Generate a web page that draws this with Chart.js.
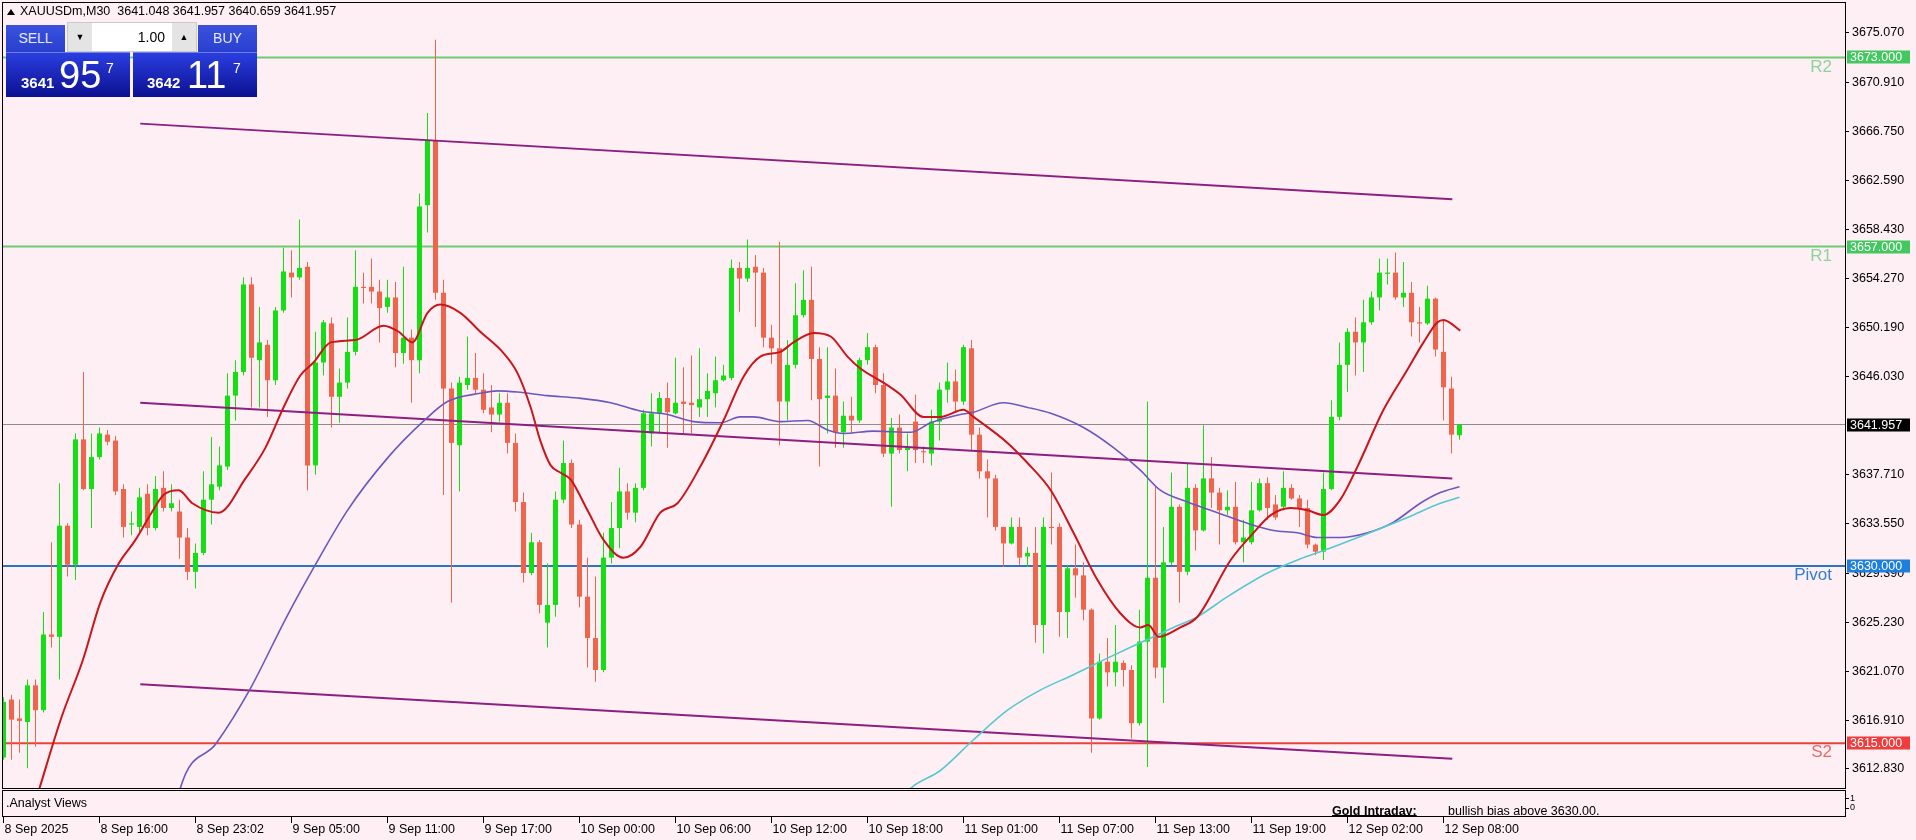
<!DOCTYPE html>
<html lang="en">
<head>
<meta charset="UTF-8" />
<title>XAUUSDm,M30</title>
<script src="https://cdn.jsdelivr.net/npm/chart.js"></script>
<style>
  body { margin: 0; background: #fdeff3; overflow: hidden; font-family: "Liberation Sans", Arial, sans-serif; }
  #wrap { position: relative; width: 1916px; height: 840px; }
  #chart { position: absolute; left: 0; top: 0; }
  .hdr { position: absolute; top: 25px; height: 27px; background: linear-gradient(#3a52dc, #2a3fcf); color: #e4e9ff;
         font-size: 14px; line-height: 27px; text-align: center; }
  .spin { position: absolute; left: 67px; top: 22px; width: 130px; height: 30px; background: #fff; border: 1px solid #c9c9c9; box-sizing: border-box; }
  .spin .arr { position: absolute; top: 0; width: 24px; height: 28px; background: #e4e4e4; font-size: 9px; line-height: 28px; text-align: center; color: #000; }
  .spin .lot { position: absolute; right: 31px; top: 0; line-height: 28px; font-size: 14px; color: #000; }
  .px { position: absolute; top: 52px; width: 124px; height: 45px; background: linear-gradient(#2a3ee0, #0c1090); color: #fff; border-top: 1px solid #6f7fe6; box-sizing: border-box; }
  .px span { position: absolute; line-height: 1; white-space: nowrap; }
  .px .s { font-size: 15px; font-weight: bold; top: 22px; }
  .px .b { font-size: 38px; top: 3px; }
  .px .u { font-size: 14px; top: 8px; }
</style>
</head>
<body>
<div id="wrap">
  <canvas id="chart" width="1916" height="840"></canvas>
  <div class="hdr" style="left:6px; width:59px;">SELL</div>
  <div class="spin">
    <div class="arr" style="left:0;">&#9660;</div>
    <div class="lot">1.00</div>
    <div class="arr" style="right:0;">&#9650;</div>
  </div>
  <div class="hdr" style="left:198px; width:59px;">BUY</div>
  <div class="px" style="left:6px;"><span class="s" style="left:15px;">3641</span><span class="b" style="left:53px;">95</span><span class="u" style="left:100px;">7</span></div>
  <div class="px" style="left:133px;"><span class="s" style="left:14px;">3642</span><span class="b" style="left:54px;">11</span><span class="u" style="left:100px;">7</span></div>
</div>

<script>
// candles, one per 30 minutes
const openP = [
  3613.8,3618.7,3617.1,3616.8,3619.9,3617.8,3624.2,3624.0,3633.4,3630.1,
  3640.7,3636.5,3639.2,3641.1,3640.6,3636.5,3633.5,3633.3,3636.1,3633.2,
  3636.6,3634.9,3634.6,3632.4,3629.5,3631.1,3635.6,3636.7,3638.4,3644.4,
  3646.4,3653.8,3647.4,3648.7,3645.7,3651.6,3654.8,3654.4,3655.3,3638.5,
  3647.2,3650.5,3644.3,3645.5,3648.1,3653.6,3653.6,3653.2,3651.9,3652.7,
  3648.0,3649.3,3647.4,3660.5,3666.0,3653.1,3645.0,3640.2,3645.3,3645.9,
  3644.9,3643.4,3642.8,3643.8,3640.4,3635.4,3629.4,3632.0,3625.2,3626.7,
  3635.6,3638.7,3633.5,3627.4,3623.9,3621.2,3630.7,3633.2,3636.3,3634.5,
  3636.6,3641.2,3642.9,3644.2,3642.9,3643.9,3643.8,3643.4,3644.1,3644.6,
  3645.7,3645.9,3655.2,3654.3,3655.3,3654.8,3649.3,3648.4,3643.9,3647.0,
  3651.2,3652.5,3647.5,3644.2,3644.4,3641.3,3642.7,3642.3,3647.4,3648.5,
  3645.3,3639.5,3641.7,3639.8,3642.2,3639.7,3639.5,3642.2,3644.9,3645.6,
  3643.9,3648.4,3641.1,3638.0,3637.4,3633.3,3631.9,3633.3,3630.8,3631.1,
  3625.0,3633.3,3633.3,3626.1,3629.8,3629.2,3626.3,3617.1,3621.9,3621.0,
  3621.8,3621.2,3616.7,3623.6,3629.0,3621.4,3630.3,3635.0,3629.5,3636.6,
  3633.0,3637.4,3636.2,3634.7,3635.0,3632.0,3632.0,3634.7,3637.0,3635.2,
  3635.0,3636.6,3635.7,3634.9,3631.8,3631.2,3636.5,3642.6,3647.0,3649.8,
  3648.9,3650.6,3652.7,3654.7,3654.8,3652.7,3653.1,3650.6,3650.5,3652.6,
  3648.1,3645.0,3641.048
];
const highP = [
  3618.9,3619.1,3618.7,3620.4,3620.4,3626.1,3632.0,3637.0,3633.6,3641.2,
  3646.4,3641.2,3641.7,3641.5,3641.0,3636.9,3634.6,3636.6,3636.9,3637.6,
  3638.0,3636.9,3635.6,3633.2,3631.9,3638.0,3640.9,3640.1,3646.3,3647.4,
  3654.4,3654.4,3651.9,3649.1,3651.9,3656.9,3656.7,3659.3,3655.7,3649.8,
  3650.8,3651.0,3646.7,3651.0,3656.7,3654.8,3656.0,3654.2,3654.2,3654.0,
  3655.3,3650.0,3661.5,3668.3,3674.5,3654.2,3645.5,3646.0,3649.4,3648.0,
  3646.3,3645.3,3644.6,3644.6,3641.2,3636.2,3632.8,3632.2,3630.2,3636.3,
  3640.6,3639.0,3633.9,3630.7,3629.1,3632.8,3635.4,3638.3,3637.0,3637.0,
  3643.2,3644.6,3644.7,3645.5,3647.6,3646.8,3647.8,3648.4,3646.3,3647.7,
  3647.0,3655.9,3655.7,3657.6,3656.3,3655.2,3650.4,3657.4,3649.1,3653.9,
  3655.0,3655.3,3648.5,3648.5,3646.7,3643.9,3644.3,3647.6,3649.7,3648.7,
  3646.3,3642.5,3642.8,3641.2,3644.5,3640.1,3643.2,3645.5,3647.2,3646.6,
  3648.7,3649.1,3641.7,3639.0,3637.7,3633.3,3634.1,3634.1,3631.6,3633.3,
  3634.1,3637.9,3633.6,3630.1,3631.8,3630.3,3626.4,3622.6,3623.9,3625.0,
  3622.0,3621.6,3626.3,3643.9,3636.7,3633.3,3637.9,3635.2,3638.7,3636.9,
  3641.9,3639.2,3636.6,3636.4,3637.1,3633.9,3637.1,3637.4,3637.5,3636.0,
  3638.0,3636.9,3636.0,3635.6,3631.9,3637.9,3644.0,3648.9,3650.1,3651.0,
  3652.5,3653.2,3656.0,3656.0,3656.5,3655.7,3654.0,3651.9,3653.7,3652.7,
  3650.8,3646.0,3641.957
];
const lowP = [
  3613.6,3613.6,3614.2,3612.9,3614.7,3617.6,3623.1,3620.4,3629.1,3628.8,
  3636.4,3633.2,3639.0,3640.2,3636.0,3632.4,3632.6,3632.8,3632.6,3633.0,
  3634.6,3634.6,3630.6,3628.8,3628.1,3630.9,3633.5,3636.4,3638.1,3642.3,
  3646.1,3643.4,3643.4,3642.6,3645.3,3651.4,3652.7,3654.2,3636.4,3637.7,
  3646.1,3641.7,3642.1,3645.0,3647.8,3652.2,3652.2,3648.9,3651.4,3646.8,
  3647.1,3643.8,3646.3,3658.2,3652.5,3636.0,3626.9,3636.3,3644.9,3644.5,
  3642.9,3641.3,3642.2,3639.5,3634.6,3628.6,3629.2,3626.0,3623.1,3625.7,
  3635.3,3633.2,3626.5,3621.4,3620.2,3621.0,3630.2,3631.5,3633.9,3633.7,
  3636.4,3640.1,3641.2,3640.0,3642.8,3641.2,3641.2,3642.6,3642.6,3643.4,
  3645.6,3645.7,3651.5,3654.0,3650.2,3648.5,3647.1,3640.2,3642.3,3646.7,
  3651.0,3644.0,3638.4,3641.2,3640.0,3640.0,3641.2,3642.1,3647.0,3644.6,
  3639.2,3635.0,3639.5,3638.0,3638.7,3638.7,3638.5,3640.6,3643.8,3643.0,
  3643.6,3639.8,3637.4,3634.1,3633.0,3629.9,3631.8,3630.1,3629.9,3623.5,
  3622.6,3631.8,3624.0,3623.9,3627.3,3625.4,3614.2,3617.0,3619.8,3619.8,
  3619.8,3615.4,3616.5,3613.0,3620.5,3618.4,3630.1,3626.9,3629.2,3631.3,
  3632.9,3634.9,3631.8,3634.3,3631.8,3630.3,3631.8,3634.6,3633.9,3633.9,
  3634.7,3635.6,3633.3,3631.5,3630.9,3630.5,3636.4,3642.3,3644.7,3646.1,
  3646.4,3650.4,3651.6,3653.8,3652.5,3651.9,3649.4,3648.9,3650.4,3647.7,
  3642.3,3639.5,3640.659
];
const closeP = [
  3618.5,3617.0,3616.9,3619.9,3617.8,3624.2,3624.0,3633.4,3630.1,3640.7,
  3636.5,3639.2,3641.2,3640.5,3636.3,3633.3,3633.6,3635.8,3633.2,3636.5,
  3634.9,3635.3,3632.4,3629.5,3631.1,3635.6,3636.9,3638.5,3644.4,3646.4,
  3653.8,3647.6,3648.9,3645.7,3651.6,3654.9,3654.4,3655.2,3638.5,3647.2,
  3650.6,3644.3,3645.5,3648.1,3653.6,3653.5,3653.2,3651.8,3652.7,3648.0,
  3649.3,3647.4,3660.4,3666.0,3653.1,3645.0,3640.4,3645.5,3645.9,3644.9,
  3643.2,3642.8,3643.8,3640.4,3635.4,3629.4,3632.0,3626.7,3626.7,3635.6,
  3638.7,3633.5,3627.4,3623.9,3621.2,3630.7,3633.2,3636.3,3634.5,3636.6,
  3642.9,3642.9,3644.2,3643.0,3643.8,3643.7,3643.6,3644.1,3644.8,3645.7,
  3646.1,3655.2,3654.3,3655.2,3654.8,3649.3,3648.4,3643.9,3647.0,3651.2,
  3652.5,3647.5,3644.1,3644.4,3641.3,3642.7,3642.3,3647.4,3648.5,3645.3,
  3639.5,3641.7,3639.8,3640.0,3639.8,3639.6,3642.2,3644.9,3645.6,3643.9,
  3648.5,3641.1,3638.0,3637.4,3633.3,3631.9,3633.3,3630.7,3631.1,3625.0,
  3633.3,3633.2,3626.1,3629.8,3629.2,3626.3,3617.1,3621.9,3621.0,3621.9,
  3621.2,3616.7,3623.6,3629.0,3621.4,3630.3,3635.0,3629.5,3636.6,3633.0,
  3637.4,3636.2,3634.7,3635.0,3632.0,3632.4,3634.7,3637.0,3634.9,3634.1,
  3636.6,3635.7,3634.9,3631.8,3631.2,3636.5,3642.6,3647.0,3649.8,3648.9,
  3650.6,3652.7,3654.8,3654.8,3652.7,3653.1,3650.6,3650.5,3652.6,3648.3,
  3645.1,3641.1,3641.957
];

// moving averages, [bar index, price] read at points along each line
const maFast = [
  [3.5,3609],[4.5,3611.2],[7.25,3617.2],[9.9,3622.0],[12.1,3626.9],[14.4,3630.2],[16.5,3632.2],
  [18.5,3634.5],[20,3636.0],[21.9,3636.4],[23.6,3635.3],[26.9,3634.5],[30.25,3637.4],[32.75,3640.0],
  [35,3643.4],[37.1,3646.1],[38.75,3647.2],[40.9,3648.9],[44,3649.1],[47.5,3650.3],[49.4,3649.8],
  [51.1,3648.9],[53,3651.4],[54.6,3652.1],[57.1,3651.4],[59.6,3649.8],[62.5,3648.0],[64.25,3646.3],
  [65.9,3643.4],[67.1,3640.6],[68.4,3638.5],[69.6,3637.9],[70.9,3637.3],[73,3634.7],[75,3632.2],
  [77.5,3630.7],[79.6,3631.6],[82.1,3634.5],[84.25,3635.3],[87.1,3638.4],[90,3642.3],[92.5,3646.0],
  [94.6,3647.7],[97.1,3648.1],[98.75,3648.9],[101.25,3649.7],[103.4,3649.4],[105.5,3647.7],
  [107.1,3646.7],[110,3645.5],[112.1,3644.5],[115,3642.6],[117.1,3642.6],[120,3643.2],[121.25,3642.6],
  [125.5,3640.4],[128,3638.7],[130.9,3636.4],[133.75,3632.8],[136.75,3628.8],[139.6,3626.0],
  [142.1,3624.8],[143.1,3625.0],[144.4,3624.0],[147.1,3624.8],[149.25,3625.7],[153.4,3630.5],
  [156.25,3632.8],[158.4,3634.3],[160.9,3634.9],[163,3634.7],[165,3634.3],[167.1,3635.6],
  [169.25,3638.4],[172.5,3643.2],[175.5,3646.6],[177.5,3648.9],[179.25,3650.6],[180,3650.8],[182.1,3649.9]
];
const maSlow = [
  [21.5,3609],[22.1,3611.2],[26.6,3615.0],[30.75,3619.5],[35.4,3625.7],[38.9,3630.0],[43,3634.7],
  [48.1,3639.2],[52.6,3642.3],[55.5,3643.9],[59.6,3644.6],[61.75,3644.8],[64.25,3644.7],[68,3644.4],
  [71.75,3644.2],[75.9,3643.8],[79.6,3643.1],[83,3642.8],[86.25,3642.2],[89.6,3642.1],[92.1,3642.6],
  [93.75,3642.6],[97.1,3642.2],[100.5,3642.3],[103,3641.5],[105,3641.2],[108.75,3641.4],[113.4,3641.3],
  [115.9,3642.1],[119.6,3642.8],[121.25,3643.0],[125,3643.8],[128,3643.4],[130.9,3642.9],[135,3641.7],
  [138.75,3640.0],[142.1,3638.1],[144.6,3636.4],[148,3635.4],[151.75,3634.5],[155.5,3633.6],
  [158.75,3633.0],[161.75,3632.8],[164.25,3632.4],[167.1,3632.4],[170.5,3632.8],[173.75,3633.7],
  [177.1,3635.3],[179.6,3636.2],[182,3636.7]
];
const maLong = [
  [112.5,3610.5],[113.4,3611.2],[117.1,3612.7],[121.25,3615.3],[125.5,3617.8],[129.6,3619.5],
  [133.75,3620.8],[138,3622.2],[142.1,3623.5],[146.25,3624.8],[149.25,3625.7],[153,3627.4],
  [158,3629.4],[162.1,3630.6],[165,3631.3],[170,3632.6],[175.5,3634.1],[179.6,3635.3],[182,3635.8]
];

// channel trend lines
const chanUpper = [[17.1,3667.4],[181.1,3661.0]];
const chanMiddle = [[17.1,3643.8],[181.1,3637.4]];
const chanLower = [[17.1,3620.0],[181.1,3613.7]];

// support / resistance levels
const levelNames = ['R2', 'R1', 'Pivot', 'S2'];
const levelValues = [3673.0, 3657.0, 3630.0, 3615.0];
const lastPrice = 3641.957;

const yTicks = [3675.07, 3670.91, 3666.75, 3662.59, 3658.43, 3654.27, 3650.19, 3646.03,
                3637.71, 3633.55, 3629.39, 3625.23, 3621.07, 3616.91, 3612.83];
const timeIdx = [0, 12, 24, 36, 48, 60, 72, 84, 96, 108, 120, 132, 144, 156, 168, 180];
const timeLabels = ['8 Sep 2025', '8 Sep 16:00', '8 Sep 23:02', '9 Sep 05:00', '9 Sep 11:00', '9 Sep 17:00',
                    '10 Sep 00:00', '10 Sep 06:00', '10 Sep 12:00', '10 Sep 18:00', '11 Sep 01:00',
                    '11 Sep 07:00', '11 Sep 13:00', '11 Sep 19:00', '12 Sep 02:00', '12 Sep 08:00'];

const FONT = '"Liberation Sans", Arial, sans-serif';
const BULL = '#13df13';
const BEAR = '#f0644c';
const levelColors = ['#6fcb72', '#6fcb72', '#2a74c0', '#e8433d'];
const levelBoxes = ['#43c860', '#43c860', '#1c7fe0', '#f03c3c'];
const levelText = ['#8cd49a', '#8cd49a', '#2f7fd0', '#e66a6a'];
const X_MIN = -0.0625, X_MAX = 230.1875;
const Y_MIN = 3611.22, Y_MAX = 3677.6;

const idx = openP.map((_, i) => i);
const bodies = idx.map(i => ({ x: i, y: [openP[i], closeP[i]] }));
const wicks = idx.map(i => ({ x: i, y: [lowP[i], highP[i]] }));
const colors = idx.map(i => closeP[i] >= openP[i] ? BULL : BEAR);
const pts = arr => arr.map(p => ({ x: p[0], y: p[1] }));

function lineSet(data, color, width, order, smooth) {
  return {
    type: 'line', data: data, borderColor: color, borderWidth: width, pointRadius: 0,
    tension: smooth ? 0.4 : 0, cubicInterpolationMode: smooth ? 'monotone' : 'default',
    fill: false, order: order
  };
}

const datasets = [];
levelValues.forEach((v, k) => {
  datasets.push(lineSet([{ x: X_MIN, y: v }, { x: X_MAX, y: v }], levelColors[k], 2, 10, false));
});
datasets.push(lineSet([{ x: X_MIN, y: lastPrice }, { x: X_MAX, y: lastPrice }], '#8c8c8c', 1, 9, false));
datasets.push({ data: wicks, backgroundColor: colors, barThickness: 1, grouped: false, borderWidth: 0, inflateAmount: 0, order: 6 });
datasets.push({ data: bodies, backgroundColor: colors, barThickness: 5, grouped: false, borderWidth: 0, inflateAmount: 0, minBarLength: 1, order: 5 });
datasets.push(lineSet(pts(chanUpper), '#8c1f80', 2, 3, false));
datasets.push(lineSet(pts(chanMiddle), '#8c1f80', 2, 3, false));
datasets.push(lineSet(pts(chanLower), '#8c1f80', 2, 3, false));
datasets.push(lineSet(pts(maLong), '#58c8cf', 1.6, 2, true));
datasets.push(lineSet(pts(maSlow), '#6a58bd', 1.6, 2, true));
datasets.push(lineSet(pts(maFast), '#c8161d', 2, 1, true));

const background = {
  id: 'background',
  beforeDraw(chart) {
    const c = chart.ctx;
    c.save();
    c.fillStyle = '#fdeff3';
    c.fillRect(0, 0, chart.width, chart.height);
    c.restore();
  }
};

const overlay = {
  id: 'overlay',
  afterDraw(chart) {
    const c = chart.ctx, a = chart.chartArea, xs = chart.scales.x, ys = chart.scales.y;
    c.save();
    c.strokeStyle = '#000';
    c.lineWidth = 1;
    // main frame and indicator sub-window
    c.strokeRect(a.left - 0.5, a.top - 0.5, a.right - a.left + 1, a.bottom - a.top + 1);
    c.strokeRect(a.left - 0.5, 790.5, a.right - a.left + 1, 26);
    c.beginPath();
    c.moveTo(a.right + 0.5, 790); c.lineTo(a.right + 0.5, 817);
    c.moveTo(a.right + 1, 798.5); c.lineTo(a.right + 4, 798.5);
    c.moveTo(a.right + 1, 808.5); c.lineTo(a.right + 4, 808.5);
    c.stroke();
    c.fillStyle = '#000';
    c.font = '9px ' + FONT;
    c.textBaseline = 'middle';
    c.fillText('1', a.right + 5, 799);
    c.fillText('0', a.right + 5, 808);

    // level labels inside the plot
    c.font = '17px ' + FONT;
    c.textAlign = 'right';
    c.textBaseline = 'top';
    levelValues.forEach((v, k) => {
      c.fillStyle = levelText[k];
      c.fillText(levelNames[k], 1832, ys.getPixelForValue(v) + 1);
    });

    // price boxes on the axis
    c.textAlign = 'left';
    c.textBaseline = 'middle';
    c.font = '12.5px ' + FONT;
    const boxes = levelValues.map((v, k) => [v, levelBoxes[k]]);
    boxes.push([lastPrice, '#000']);
    boxes.forEach(([v, col]) => {
      const py = Math.round(ys.getPixelForValue(v));
      c.fillStyle = col;
      c.fillRect(a.right + 2, py - 6.5, 63, 13);
      c.fillStyle = '#fff';
      c.fillText(v.toFixed(3), a.right + 5, py + 0.5);
    });

    // time axis
    c.fillStyle = '#000';
    c.textBaseline = 'alphabetic';
    c.font = '12.5px ' + FONT;
    c.beginPath();
    timeIdx.forEach((t, k) => {
      const px = Math.round(xs.getPixelForValue(t) - 0.5) + 0.5;
      c.moveTo(px, 817); c.lineTo(px, 823);
      c.fillText(timeLabels[k], px + 1, 833);
    });
    c.stroke();

    // indicator sub-window texts
    c.save();
    c.beginPath();
    c.rect(a.left, 791, a.right - a.left, 25);
    c.clip();
    c.font = '12.5px ' + FONT;
    c.fillText('.Analyst Views', 6, 807);
    c.font = 'bold 12.5px ' + FONT;
    c.fillText('Gold Intraday:', 1332, 815);
    c.fillRect(1332, 815, c.measureText('Gold Intraday:').width, 1);
    c.font = '12.5px ' + FONT;
    c.fillText('bullish bias above 3630.00.', 1448, 815);
    c.restore();

    // symbol header
    c.beginPath();
    c.moveTo(7, 15); c.lineTo(11, 9); c.lineTo(15, 15); c.closePath();
    c.fill();
    c.font = '12.5px ' + FONT;
    c.textBaseline = 'middle';
    c.fillText('XAUUSDm,M30  3641.048 3641.957 3640.659 3641.957', 20, 12);
    c.restore();
  }
};

new Chart(document.getElementById('chart').getContext('2d'), {
  type: 'bar',
  data: { datasets: datasets },
  options: {
    responsive: false,
    animation: false,
    devicePixelRatio: 1,
    layout: { padding: { left: 3, top: 3, right: 0, bottom: 52 } },
    plugins: { legend: { display: false }, tooltip: { enabled: false } },
    scales: {
      x: { type: 'linear', min: X_MIN, max: X_MAX, offset: false, display: false },
      y: {
        position: 'right',
        min: Y_MIN,
        max: Y_MAX,
        afterBuildTicks: s => { s.ticks = yTicks.map(v => ({ value: v })); },
        afterFit: s => { s.width = 71; s.paddingTop = 0; s.paddingBottom = 0; },
        grid: { drawOnChartArea: false, tickLength: 4, color: '#000' },
        border: { color: '#000' },
        ticks: {
          autoSkip: false, color: '#000', padding: 3,
          font: { family: FONT, size: 12.5 },
          callback: v => Number(v).toFixed(3)
        }
      }
    }
  },
  plugins: [background, overlay]
});
</script>
</body>
</html>
